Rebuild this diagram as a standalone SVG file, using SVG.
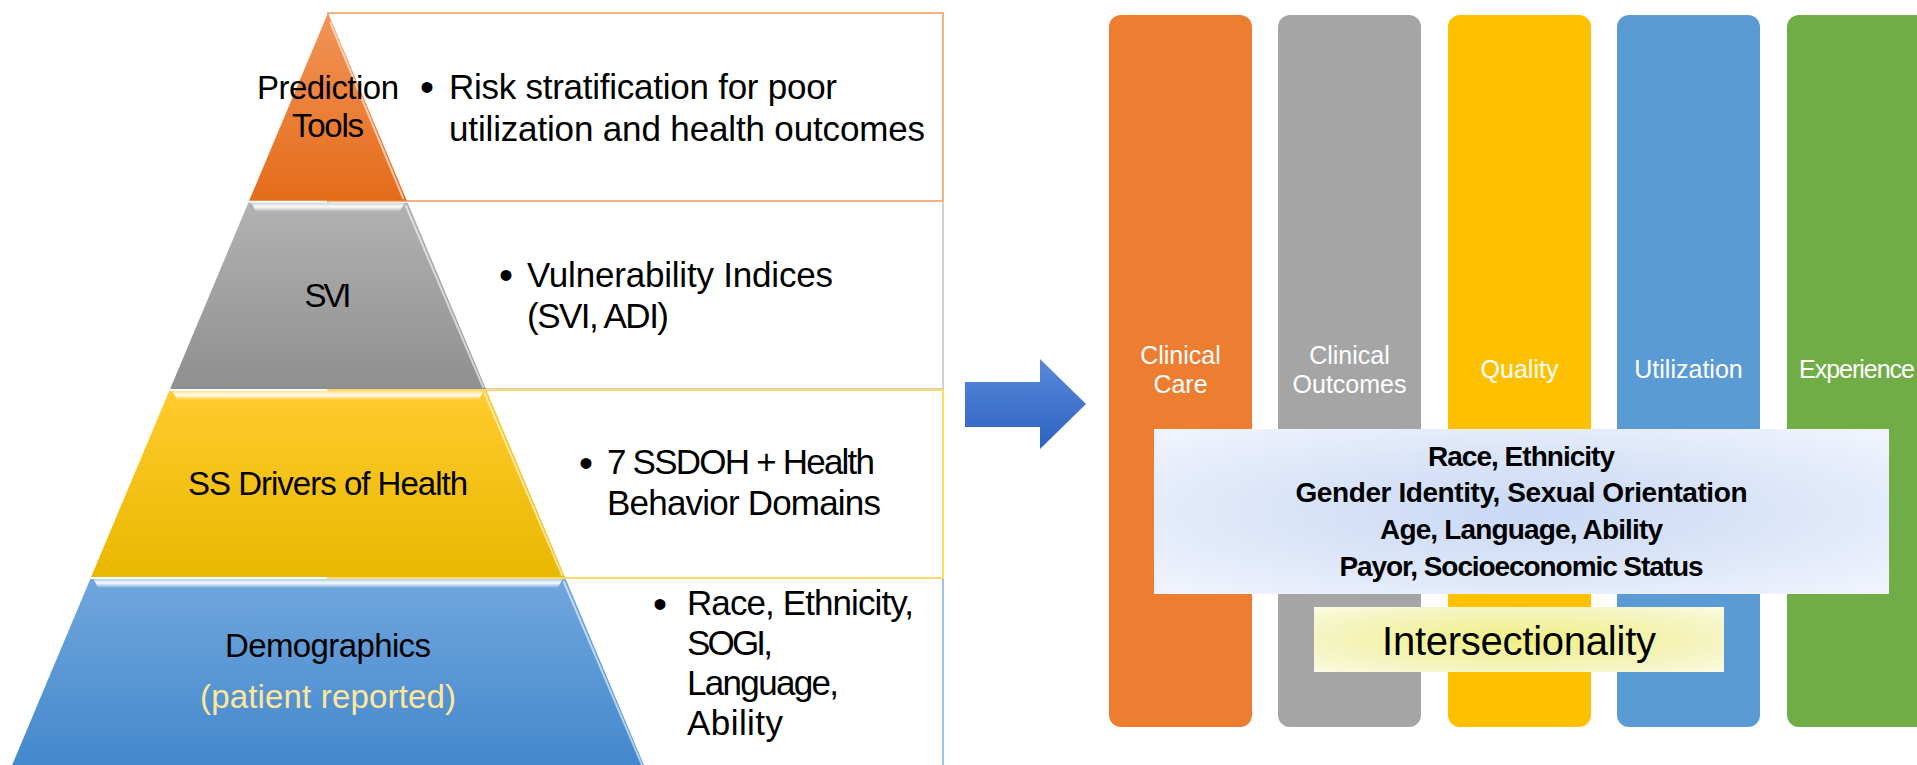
<svg xmlns="http://www.w3.org/2000/svg" width="1917" height="765" viewBox="0 0 1917 765">
<defs>
<style>
text{font-family:"Liberation Sans",Arial,sans-serif;fill:#000}
.pl{font-size:33px;text-anchor:middle}
.bt{font-size:35px}
.bu{font-size:40px}
.bl{font-size:25px;text-anchor:middle;fill:#fff}
.ov{font-size:28px;font-weight:bold;text-anchor:middle}
.box{fill:#fff;stroke-width:2}
.hl{stroke:#fff;stroke-opacity:0.6;stroke-width:2;fill:none}
</style>
<linearGradient id="gOr" x1="0" y1="0" x2="0" y2="1"><stop offset="0" stop-color="#F29458"/><stop offset="1" stop-color="#E46C1A"/></linearGradient>
<linearGradient id="gGr" x1="0" y1="0" x2="0" y2="1"><stop offset="0" stop-color="#B2B2B2"/><stop offset="1" stop-color="#8F8F8F"/></linearGradient>
<linearGradient id="gYe" x1="0" y1="0" x2="0" y2="1"><stop offset="0" stop-color="#FFCB2E"/><stop offset="1" stop-color="#E9B800"/></linearGradient>
<linearGradient id="gBl" x1="0" y1="0" x2="0" y2="1"><stop offset="0" stop-color="#71A6DE"/><stop offset="1" stop-color="#4388CC"/></linearGradient>
<linearGradient id="bev" x1="0" y1="0" x2="0" y2="1"><stop offset="0" stop-color="#fff" stop-opacity="0.45"/><stop offset="0.45" stop-color="#fff" stop-opacity="0.95"/><stop offset="1" stop-color="#fff" stop-opacity="0"/></linearGradient>
<linearGradient id="gAr" x1="0" y1="0" x2="0" y2="1"><stop offset="0" stop-color="#5889DA"/><stop offset="1" stop-color="#2E62C0"/></linearGradient>
<radialGradient id="gOv" cx="0.5" cy="0.5" r="0.7"><stop offset="0" stop-color="#C8D8F5"/><stop offset="0.7" stop-color="#E4EBFA"/><stop offset="1" stop-color="#F2F5FD"/></radialGradient>
<radialGradient id="gIn" cx="0.5" cy="0.5" r="0.7"><stop offset="0" stop-color="#EFEF84"/><stop offset="0.7" stop-color="#F5F5C4"/><stop offset="1" stop-color="#FAFAE0"/></radialGradient>
</defs>
<rect width="1917" height="765" fill="#fff"/>

<g id="box-svi"><rect class="box" x="328" y="201" width="615" height="188" stroke="#D0D0D0"/></g>
<g id="box-demographics"><rect class="box" x="328" y="578" width="615" height="200" stroke="#9DC3E6"/></g>
<g id="box-prediction"><rect class="box" x="328" y="13" width="615" height="188" stroke="#F4B183"/></g>
<g id="box-ssdoh"><rect class="box" x="328" y="390" width="615" height="188" stroke="#FFD966"/></g>

<g id="layer-prediction">
<polygon points="328,13 406.9,200.8 249.1,200.8" fill="url(#gOr)"/>
<line class="hl" x1="330" y1="22" x2="403.5" y2="199"/>
<text class="pl" x="328" y="99" textLength="142">Prediction</text>
<text class="pl" x="328" y="137" textLength="72">Tools</text>
</g>
<g id="layer-svi">
<polygon points="248.3,202.8 407.7,202.8 485.9,389 170.1,389" fill="url(#gGr)"/>
<polygon points="251.3,202.8 404.7,202.8 399.7,211.8 256.3,211.8" fill="url(#bev)"/>
<line class="hl" x1="405.5" y1="205" x2="483.5" y2="388"/>
<text class="pl" x="328" y="307" textLength="47">SVI</text>
</g>
<g id="layer-ssdoh">
<polygon points="169.2,391 486.8,391 564.9,577 91.1,577" fill="url(#gYe)"/>
<polygon points="172.2,391 483.8,391 478.8,400 177.2,400" fill="url(#bev)"/>
<line class="hl" x1="484.5" y1="393" x2="562.5" y2="576"/>
<text class="pl" x="328" y="495" textLength="280">SS Drivers of Health</text>
</g>
<g id="layer-demographics">
<polygon points="90.3,579 565.7,579 644.7,767 11.3,767" fill="url(#gBl)"/>
<polygon points="93.3,579 562.7,579 557.7,588 98.3,588" fill="url(#bev)"/>
<line class="hl" x1="563.5" y1="581" x2="642.5" y2="766"/>
<text class="pl" x="328" y="657" textLength="206">Demographics</text>
<text class="pl" x="328" y="708" textLength="256" style="fill:#FFE699">(patient reported)</text>
</g>

<g id="text-prediction">
<text class="bu" x="420" y="101">•</text>
<text class="bt" x="449" y="99" textLength="388">Risk stratification for poor</text>
<text class="bt" x="449" y="141" textLength="476">utilization and health outcomes</text>
</g>
<g id="text-svi">
<text class="bu" x="499" y="289">•</text>
<text class="bt" x="527" y="287" textLength="306">Vulnerability Indices</text>
<text class="bt" x="527" y="328" textLength="142">(SVI, ADI)</text>
</g>
<g id="text-ssdoh">
<text class="bu" x="579" y="477">•</text>
<text class="bt" x="607" y="474" textLength="268">7 SSDOH + Health</text>
<text class="bt" x="607" y="515" textLength="274">Behavior Domains</text>
</g>
<g id="text-demographics">
<text class="bu" x="653" y="618">•</text>
<text class="bt" x="687" y="615" textLength="227">Race, Ethnicity,</text>
<text class="bt" x="687" y="655" textLength="86">SOGI,</text>
<text class="bt" x="687" y="695" textLength="152">Language,</text>
<text class="bt" x="687" y="735" textLength="96">Ability</text>
</g>

<g id="connectors">
<polygon points="965,382 1040,382 1040,359 1086,404 1040,449 1040,427 965,427" fill="url(#gAr)"/>
</g>

<g id="bar-clinical-care">
<rect x="1109" y="15" width="143" height="712" rx="12" fill="#ED7D31"/>
<text class="bl" x="1180.5" y="364">Clinical</text>
<text class="bl" x="1180.5" y="393">Care</text>
</g>
<g id="bar-clinical-outcomes">
<rect x="1278" y="15" width="143" height="712" rx="12" fill="#A5A5A5"/>
<text class="bl" x="1349.5" y="364">Clinical</text>
<text class="bl" x="1349.5" y="393">Outcomes</text>
</g>
<g id="bar-quality">
<rect x="1448" y="15" width="143" height="712" rx="12" fill="#FFC000"/>
<text class="bl" x="1519.5" y="378">Quality</text>
</g>
<g id="bar-utilization">
<rect x="1617" y="15" width="143" height="712" rx="12" fill="#5B9BD5"/>
<text class="bl" x="1688.5" y="378">Utilization</text>
</g>
<g id="bar-experience">
<rect x="1787" y="15" width="143" height="712" rx="12" fill="#70AD47"/>
<text class="bl" x="1857" y="378" textLength="116">Experience</text>
</g>

<g id="dimensions">
<rect x="1154" y="429" width="735" height="165" fill="url(#gOv)"/>
<text class="ov" x="1521.5" y="466" textLength="187">Race, Ethnicity</text>
<text class="ov" x="1521.5" y="502" textLength="452">Gender Identity, Sexual Orientation</text>
<text class="ov" x="1521.5" y="539" textLength="283">Age, Language, Ability</text>
<text class="ov" x="1521.5" y="576" textLength="364">Payor, Socioeconomic Status</text>
</g>
<g id="intersectionality">
<rect x="1314" y="607" width="410" height="65" fill="url(#gIn)"/>
<text x="1519" y="655" style="font-size:40px;text-anchor:middle" textLength="274">Intersectionality</text>
</g>
</svg>
